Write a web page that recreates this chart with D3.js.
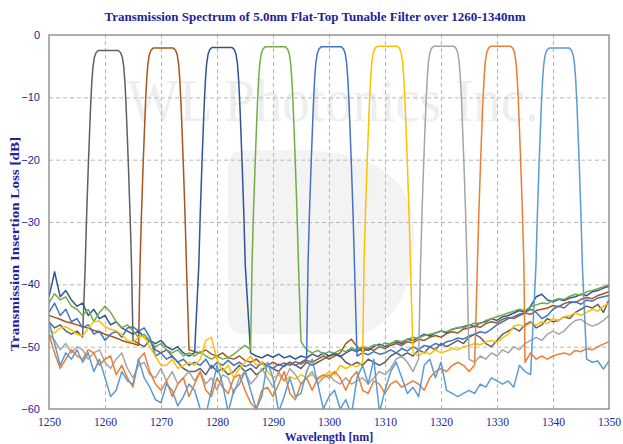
<!DOCTYPE html>
<html><head><meta charset="utf-8">
<script src="https://cdn.jsdelivr.net/npm/d3@7"></script>
<style>body{margin:0;background:#fff}svg{display:block}</style>
</head><body><svg id="chart" width="623" height="444"></svg>
<script>
// ---------- data ----------
const wavelengths = d3.range(1250, 1351); // 1 nm sampling grid 1250..1350

// out-of-band noise floor per filter setting (dB); null = inside pass band
const loss1260 = [-46,-47,-46.5,-47.5,-48,-47.5,-48.5,
  null,null,null,null,null,null,null,null,
  -49,-49.5,-50,-49,-50.5,-51,-50.5,-51.5,-52.5,-53.5,-54,
  -54,-53.5,-54.5,-53,-54,-53.5,-54.5,-54,-53,-54,-53.5,-54.5,-53.8,-53,-53.5,-54,-53,-52.5,-53,-53.5,-52.5,-53,-52.5,-52,-51.5,
  -51,-51.5,-52.5,-53,-52.5,-53,-52,-52.5,-53,-52.5,-51.5,-51,-51.5,-51,-51.5,-50.5,-51,-50,-50.5,-49.5,-50,-49.5,-49,-49.5,
  -48.5,-48,-48.5,-49.5,-50,-49,-48,-47.5,-47,-47.5,-46.5,-46,-47,-46.5,-45.5,-46,-45.8,-45.2,-45.5,-44.5,-44,-43.5,-43.8,-43.2,-44.5,-42.5];
const loss1270 = [-45,-45.3,-45.6,-46,-46.2,-46.5,-46.8,-47,-47.4,-47.6,-48,-48.3,-48.6,-49,-49.3,-49.5,-49.8,
  null,null,null,null,null,null,null,null,
  -50.5,-50.8,-51,-50.5,-51.2,-51.5,-51,-51.8,-52,-51.5,-52.2,-52.5,-52,-52.8,-53,-52.5,-53,-52.6,-53,-52.4,-52.8,-52.2,-52.5,-52,-51.5,-52,
  -51.5,-51,-49.5,-48.8,-50,-50.8,-50.3,-50.6,-50,-50.3,-49.8,-49.5,-49.8,-49.2,-49.4,-48.8,-49,-48.5,-48.2,-48.5,-47.9,-47.6,-47.8,-47.2,-47,
  -46.7,-46.9,-46.3,-46,-46.2,-45.6,-45.3,-45.5,-45,-44.6,-44.8,-44.2,-44,-43.8,-43.4,-43.6,-43.1,-42.8,-42.9,-42.4,-42.1,-42.3,-41.8,-41.5,-41.2];
const loss1280 = [-42,-38,-42,-41,-42.5,-43.5,-43,-45,-44,-45.5,-45,-46.5,-46,-47,-47.5,-48,-47.5,-48.5,-49,-49.5,-49,-50,-50.5,-50,-51,-51.5,-51,
  null,null,null,null,null,null,null,null,null,
  -51,-51.5,-51.8,-51.3,-51.7,-51.2,-51.8,-51.5,-52,-51.5,-51.8,-51.2,-51.6,-51,-51.5,
  -51.2,-51.6,-51,-50.5,-50.8,-50.2,-50.6,-50,-49.6,-50,-49.5,-49.2,-49.5,-48.8,-49,-48.5,-48,-48.3,-47.8,-47.5,-47.8,-47.2,-47,-46.8,-46.5,
  -46.8,-46.2,-46,-45.5,-45.8,-45.2,-45,-44.6,-44.2,-44.5,-43.5,-42,-41.6,-42.5,-42.8,-42.4,-42.6,-42.2,-42,-41.6,-41.8,-41.2,-41,-40.6,-40.3];
const loss1290 = [-43,-41.5,-42.5,-42,-43.5,-44,-45,-44,-46,-44.5,-43.5,-44.5,-46,-47,-46.5,-47.5,-48.5,-48,-49,-50,-49.5,-50.5,-51,-50.5,-51.5,-51,-51.5,-50.8,-51.5,-52,-51.5,-52,-51.8,-51.2,-50.5,-49.8,-50.5,
  null,null,null,null,null,null,null,null,
  -49.2,-50.5,-51,-50.6,-51.2,-50.8,-51,-50.5,-50.8,-50.2,-50.5,-50,-50.2,-49.7,-49.9,-49.4,-49.6,-49,-49.2,-48.8,-48.5,-48.7,-48.2,-48,-47.8,-47.5,
  -47.6,-47.2,-46.9,-47,-46.6,-46.2,-46.3,-45.8,-45.5,-45.2,-44.9,-44.6,-44.3,-44,-44.2,-43.6,-43.3,-43,-43.1,-42.6,-42.3,-42.4,-41.9,-41.6,-41.7,-41.2,-41,-40.7,-40.4,-40];
const loss1300 = [-44.5,-43,-45,-44,-46,-45.5,-47,-46.5,-48,-47.5,-49,-48,-47.5,-48.5,-47,-46.8,-47.5,-47,-48.5,-51.5,-51,-52,-51.5,-52.5,-52,-53,-52.5,-53,-52,-53.5,-52.5,-53,-52.2,-53,-52.5,-53.2,-52.8,-53.5,-52.5,-53,-53.5,-52.8,-53.2,-52.5,-53,-52.5,-52,
  null,null,null,null,null,null,null,null,
  -51.5,-51,-51.3,-50.8,-51.2,-51,-50.5,-51,-50.3,-50.7,-50,-50.5,-49.8,-50,-49.5,-49.8,-49.2,-49,-48.6,-48.8,-48.3,-48,-47.6,-47.8,-47.2,-46.5,
  -46,-45.5,-45.2,-44.8,-44.5,-44,-44.5,-45.5,-45,-44,-43.5,-43.8,-43,-42.8,-43.2,-42.5,-42.7,-42.2,-42,-41.8];
const loss1310 = [-47.5,-47.8,-47,-46.8,-47.3,-48,-48.3,-47,-46,-45.9,-46.8,-47.2,-47.5,-48,-49,-49.3,-48.5,-48.3,-50,-51.5,-53,-53,-52,-53.5,-53,-52.5,-53,-52,-49,-48.5,-52,-54,-53,-55,-53.5,-52.5,-51.5,-53,-52.5,-54,-55,-54.5,-55.5,-54.8,-55.2,-54.5,-55,-54.5,-55.3,-54.8,-54,-54.5,-53,-53.5,-53,-53.2,-52.5,
  null,null,null,null,null,null,null,null,
  -51,-51.5,-50.8,-51.2,-50.5,-51,-50.7,-50.3,-50.5,-50,-49.8,-49.5,-49.7,-49.2,-49,-49.3,-48.6,-48,-46.7,-46.5,-46.8,-46.2,-46.5,-46,-46.3,-45.5,-45.8,-45.2,-45,-44.6,-45,-44.5,-44,-44.3,-43.5,-43];
const loss1320 = [-48,-49,-50.5,-49.5,-51,-50,-50.5,-52,-51,-50.5,-52.5,-53.5,-52,-51,-53.5,-55,-53,-52.5,-54.5,-55,-53.5,-55.5,-54,-56,-55,-54,-55.5,-54,-56,-55,-57,-54.5,-55,-57.5,-55,-54,-56,-55,-53.5,-55,-56.5,-54,-55.5,-53.5,-54.5,-56,-55,-54,-56,-55,-54.5,-55.5,-56,-55,-56,-55.5,-55,-56,-55,-54,-54.5,-53.5,-52,-51.5,-52.5,-54,-52,
  null,null,null,null,null,null,null,null,
  -52,-52.5,-51.5,-52,-51,-51.5,-50.5,-51,-50,-50.5,-49.5,-49,-48.5,-49,-48,-47.5,-48,-47.5,-46.5,-45.8,-45.6,-46.3,-46.7,-46.4,-45.8,-45];
const loss1330 = [-48,-51,-53.5,-52,-50.5,-51.5,-52,-50.5,-51,-53,-52,-51.5,-54.5,-53,-55,-56.5,-52,-51,-54,-56,-57,-55.5,-58,-56,-55,-58,-56,-54,-57,-58,-55,-56.5,-57.5,-55,-54.5,-57,-59,-60,-57,-56.5,-58,-56,-54,-57.5,-58.5,-56,-55,-57,-55,-54.5,-55,-54,-55,-57,-55,-54,-57,-57.5,-55.5,-56,-57.5,-56,-55.5,-56.5,-56,-55.5,-56,-57,-55,-54,-53.5,-54,-53,-52.5,-53,-54,-53,
  null,null,null,null,null,null,null,null,
  -52.5,-51,-52,-51.5,-52,-51.5,-51.2,-51,-51.3,-50.6,-50.8,-50.3,-50.5,-50,-49.6,-49.2];
const loss1340 = [-46,-49.5,-53,-51,-52,-50.5,-52.5,-51,-54,-52,-55,-58,-57,-54,-55.5,-56,-52,-55,-56.5,-58.5,-59,-56,-57,-59.5,-58,-56,-57,-60,-61,-57,-53,-56,-60.5,-57,-56,-54,-57,-60,-58,-52.5,-55,-60.5,-58,-55,-58,-57.5,-54,-52,-56,-60,-58,-57,-60,-58.5,-61,-55,-53,-56,-52,-60.5,-57,-54,-52.5,-55,-57.5,-56.5,-58,-53,-52,-55,-52.5,-57,-57.5,-58,-57.5,-57,-57.5,-56,-56.5,-55,-55.5,-56,-55.5,-56.5,-53,-54,-54.5,
  null,null,null,null,null,null,null,null,null,
  -52,-52.5,-52.3,-53.6,-52.3];

const seriesNoise = [loss1260, loss1270, loss1280, loss1290, loss1300, loss1310, loss1320, loss1330, loss1340];
const seriesNames = ["1260nm","1270nm","1280nm","1290nm","1300nm","1310nm","1320nm","1330nm","1340nm"];
const seriesColors = ["#606060","#a9551d","#2f5597","#70ad47","#4472c4","#ffc000","#a5a5a5","#ed7d31","#5b9bd5"];
// pass band: measured centre wavelength (nm) and top insertion loss (dB)
const centers = [1260.6, 1270.4, 1280.9, 1290.4, 1300.4, 1310.4, 1320.5, 1330.65, 1341.1];
const peaks = [-2.5, -2.1, -2.0, -1.9, -1.9, -1.8, -1.8, -1.8, -2.1];
// flat-top pass band edge profile: offset from centre (nm) and loss below top (dB)
const edgeOffsets = [-4.15,-3.9,-3.6,-3.35,-3.15,-2.95,-2.75,-2.5,-2.2,-1.8,1.8,2.2,2.5,2.75,2.95,3.15,3.35,3.6,3.9,4.15];
const edgeRelative = [-35,-27,-19,-13,-8.5,-5,-2.6,-1.1,-0.35,0,0,-0.35,-1.1,-2.6,-5,-8.5,-13,-19,-27,-35];

const xTicks = [1250,1260,1270,1280,1290,1300,1310,1320,1330,1340,1350];
const yTicks = [0,-10,-20,-30,-40,-50,-60];

const titleText = "Transmission Spectrum of 5.0nm Flat-Top Tunable Filter over 1260-1340nm";
const xTitle = "Wavelength [nm]";
const yTitle = "Transmission Insertion Loss [dB]";

// ---------- drawing ----------
const svg = d3.select("#chart");
const L = 49, R = 609, T = 35, B = 409;
const x = d3.scaleLinear().domain([1250, 1350]).range([L, R]);
const y = d3.scaleLinear().domain([0, -60]).range([T, B]);
const textBlue = "#22229c";

svg.append("rect").attr("width", 623).attr("height", 444).attr("fill", "#fff");

// faint watermark
const wm = svg.append("g").attr("pointer-events", "none");
wm.append("path")
  .attr("d", "M228,168 Q228,150 246,150 L300,150 Q418,152 414,240 Q410,318 362,334 L246,334 Q228,334 228,318 Z")
  .attr("fill", "#f3f3f3");
wm.append("text").attr("x", 333).attr("y", 121).attr("text-anchor", "middle")
  .attr("font-family", "Liberation Serif, serif").attr("font-size", 62)
  .attr("textLength", 412).attr("lengthAdjust", "spacingAndGlyphs")
  .attr("fill", "#eeeeee").text("WL Photonics Inc.");

// grid
const grid = svg.append("g");
grid.append("g").attr("transform", `translate(0,${B})`)
  .call(d3.axisBottom(x).tickValues(xTicks.slice(1, -1)).tickSize(-(B - T)).tickFormat(""))
  .call(g => g.select(".domain").remove())
  .call(g => g.selectAll("line").attr("stroke", "#b8b8b8").attr("stroke-dasharray", "4,3"));
grid.append("g").attr("transform", `translate(${L},0)`)
  .call(d3.axisLeft(y).tickValues(yTicks.slice(1, -1)).tickSize(-(R - L)).tickFormat(""))
  .call(g => g.select(".domain").remove())
  .call(g => g.selectAll("line").attr("stroke", "#b8b8b8").attr("stroke-dasharray", "4,3"));

// series
svg.append("clipPath").attr("id", "plotclip").append("rect")
  .attr("x", L).attr("y", T).attr("width", R - L).attr("height", B - T);
const line = d3.line().x(d => x(d[0])).y(d => y(d[1]));
const lines = svg.append("g").attr("clip-path", "url(#plotclip)");
seriesNoise.forEach((vals, i) => {
  const pts = [];
  vals.forEach((v, k) => { if (v !== null) pts.push([wavelengths[k], v]); });
  edgeOffsets.forEach((o, k) => pts.push([centers[i] + o, peaks[i] + edgeRelative[k]]));
  pts.sort((a, b) => a[0] - b[0]);
  lines.append("path").datum(pts)
    .attr("d", line).attr("fill", "none")
    .attr("stroke", seriesColors[i]).attr("stroke-width", 1.5)
    .attr("stroke-linejoin", "round")
    .attr("data-name", seriesNames[i]);
});

// plot frame
svg.append("rect").attr("x", L).attr("y", T).attr("width", R - L).attr("height", B - T)
  .attr("fill", "none").attr("stroke", "#858585").attr("stroke-width", 1.3);

// axes labels
const xa = svg.append("g").attr("transform", `translate(0,${B})`)
  .call(d3.axisBottom(x).tickValues(xTicks).tickSize(0).tickPadding(9).tickFormat(d3.format("d")));
xa.select(".domain").remove();
xa.selectAll("text").attr("font-family", "Liberation Serif, serif").attr("font-size", 11.5).attr("fill", textBlue);

const ya = svg.append("g").attr("transform", `translate(${L},0)`)
  .call(d3.axisLeft(y).tickValues(yTicks).tickSize(0).tickPadding(9).tickFormat(d3.format("d")));
ya.select(".domain").remove();
ya.selectAll("text").attr("font-family", "Liberation Sans, Arial, sans-serif").attr("font-size", 11).attr("fill", textBlue);

// titles
svg.append("text").attr("x", 315).attr("y", 21).attr("text-anchor", "middle")
  .attr("font-family", "Liberation Serif, serif").attr("font-weight", "bold").attr("font-size", 13.5)
  .attr("textLength", 421).attr("lengthAdjust", "spacingAndGlyphs")
  .attr("fill", textBlue).text(titleText);
svg.append("text").attr("x", 329).attr("y", 441).attr("text-anchor", "middle")
  .attr("font-family", "Liberation Serif, serif").attr("font-weight", "bold").attr("font-size", 12)
  .attr("fill", textBlue).text(xTitle);
svg.append("text").attr("transform", "translate(19,244) rotate(-90)").attr("text-anchor", "middle")
  .attr("font-family", "Liberation Serif, serif").attr("font-weight", "bold").attr("font-size", 12.5)
  .attr("textLength", 214).attr("lengthAdjust", "spacingAndGlyphs")
  .attr("fill", textBlue).text(yTitle);
</script>
</body></html>
